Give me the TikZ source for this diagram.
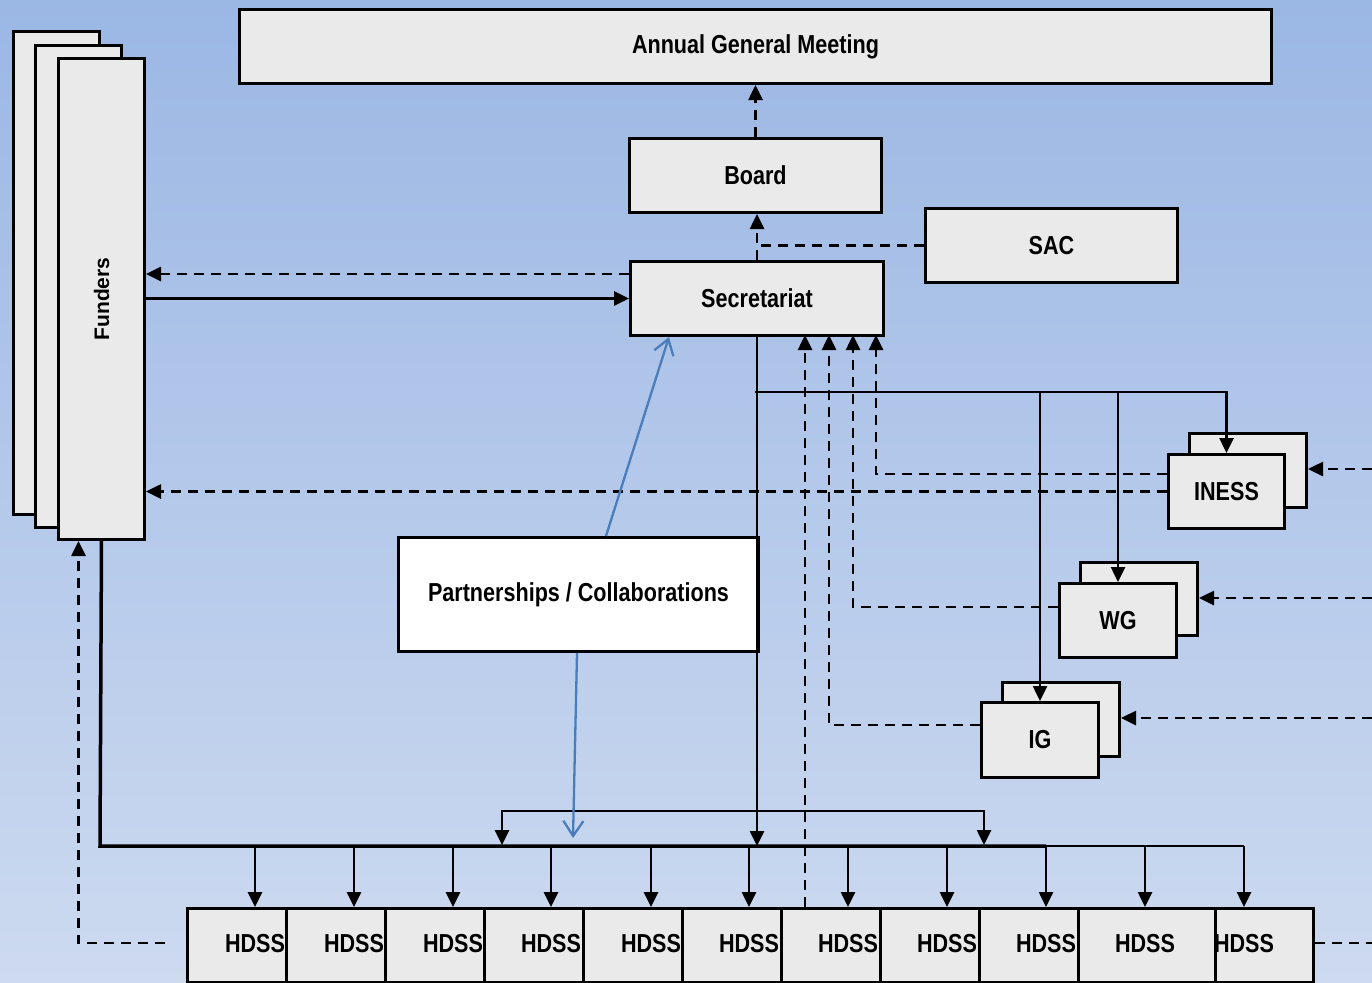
\documentclass[tikz,border=0pt]{standalone}
\usepackage{fontspec}
\setmainfont{Liberation Sans}
\newfontfamily\condfont{Liberation Sans}[FakeStretch=0.83]
\usetikzlibrary{arrows.meta}
\definecolor{bgtop}{RGB}{155,183,228}
\definecolor{bgbot}{RGB}{205,218,240}
\definecolor{boxgray}{RGB}{234,234,234}
\definecolor{linkblue}{RGB}{74,126,187}
\begin{document}
\begin{tikzpicture}[x=1pt,y=-1pt,
  box/.style={draw=black, fill=boxgray, line width=3pt, inner sep=0pt, anchor=north west,
    font=\condfont\bfseries\fontsize{26}{30}\selectfont},
  hbox/.style={box, line width=2.5pt},
  lbl/.style={inner sep=0pt, font=\condfont\bfseries\fontsize{26}{30}\selectfont},
  conn/.style={line width=2.6pt},
  arr/.style={conn, -{Triangle[length=15pt,width=14pt]}},
  dsh/.style={conn, dash pattern=on 10pt off 7pt},
  darr/.style={dsh, -{Triangle[length=15pt,width=14pt]}},
  bluelink/.style={draw=linkblue, line width=2.3pt, -{Straight Barb[length=15pt,width=20pt]}}]
\shade[top color=bgtop, bottom color=bgbot] (0,0) rectangle (1372,982);
\useasboundingbox (0,0) rectangle (1372,982);

% top boxes
\node[box, minimum width=1032pt, minimum height=74pt] (agm) at (238,8) {Annual General Meeting};
\node[box, minimum width=252pt, minimum height=74pt] (board) at (628,137) {Board};
\node[box, minimum width=252pt, minimum height=74pt] (sac) at (924,207) {SAC};
\node[box, minimum width=253pt, minimum height=74pt] (sec) at (629,260) {Secretariat};

% funders stack
\node[box, minimum width=86pt, minimum height=483pt] (fund3) at (12,30) {};
\node[box, minimum width=86pt, minimum height=482pt] (fund2) at (34,44) {};
\node[box, minimum width=86pt, minimum height=481pt] (funders) at (57,57) {};
\node[rotate=90, inner sep=0pt, font=\bfseries\fontsize{21}{24}\selectfont] (fundtext) at (funders.center) {Funders};

% partnerships
\node[box, fill=white, minimum width=360pt, minimum height=114pt] (part) at (397,536) {Partnerships / Collaborations};

% INESS, WG, IG stacks
\node[box, minimum width=117pt, minimum height=74pt] (inessb) at (1188,432) {};
\node[box, minimum width=116pt, minimum height=74pt] (iness) at (1167,453) {INESS};
\node[box, minimum width=117pt, minimum height=73pt] (wgb) at (1079,561) {};
\node[box, minimum width=117pt, minimum height=74pt] (wg) at (1058,582) {WG};
\node[box, minimum width=117pt, minimum height=74pt] (igb) at (1001,681) {};
\node[box, minimum width=117pt, minimum height=75pt] (ig) at (980,701) {IG};

% bus
\coordinate (busL) at (100,846);
\coordinate (busM) at (1046,846);
\coordinate (busR) at (1244,846);
\draw[line width=3.5pt] (funders.south) -- (busL) -- (busM);
\draw[line width=2.5pt] (busM) -- (busR);

% HDSS row
\foreach \xa/\xb/\xt [count=\i] in {186/285/255, 285/384/354, 384/483/453, 483/582/551,
   582/681/651, 681/780/749, 780/879/848, 879/978/947, 978/1077/1046, 1077/1214/1145, 1214/1312/1244} {
  \node[hbox, minimum width=\xb pt-\xa pt, minimum height=74pt] (h\i) at (\xa,907) {};
  \node[lbl] (ht\i) at (\xt,944) {HDSS};
  \draw[arr] (\xt,846) -- (ht\i |- h\i.north);
}

% Secretariat down to bus and sub-bus
\coordinate (b2L) at (502,811);
\coordinate (b2R) at (984,811);
\draw[arr] (sec.south) -- (sec.south |- busL);
\draw[arr] (sec.south |- b2L) -- (b2L) -- ([yshift=1pt]b2L |- busL);
\draw[arr] (sec.south |- b2R) -- (b2R) -- ([yshift=1pt]b2R |- busL);

% Secretariat to INESS, WG, IG
\coordinate (rb) at (755,392);
\draw[arr] (rb) -| (iness.north);
\draw[arr] (wg.north |- rb) -- (wg.north);
\draw[arr] (ig.north |- rb) -- (ig.north);

% dashed reports to Secretariat
\draw[darr] (iness.west |- 0,474) -| (876,335);
\draw[darr] (wg.west |- 0,607) -| (853,335);
\draw[darr] (ig.west |- 0,725) -| (829,335);
\draw[darr] (h7.north -| 805,0) -- (805,335);

% INESS to funders
\draw[darr] (iness.west) -- (funders.east |- iness.west);

% Secretariat <-> Funders
\draw[darr] (sec.west |- 0,274) -- (funders.east |- 0,274);
\draw[arr] (funders.east |- sec.west) -- (sec.west);

% governance
\draw[darr] (board.north) -- (agm.south -| board.north);
\draw[darr] (sec.north) -- (board.south -| sec.north);
\draw[dsh] (sac.west) -- (sec.north |- sac.west);

% external dashed inputs on the right
\coordinate (eI) at (1372,469);
\coordinate (eW) at (1372,598);
\coordinate (eG) at (1372,718);
\draw[darr] (eI) -- (inessb.east |- eI);
\draw[darr] (eW) -- (wgb.east |- eW);
\draw[darr] (eG) -- (igb.east |- eG);

% HDSS dashed ends
\coordinate (hR) at (1372,943);
\draw[dsh] (h11.east |- hR) -- (hR);
\coordinate (hL) at (165,943);
\draw[darr] (hL) -| ([xshift=-23pt]funders.south);

% partnerships links
\draw[bluelink] (part.north -| 606,0) -- (sec.south -| 669,0);
\draw[bluelink] (part.south -| 577,0) -- (573,838);
\end{tikzpicture}
\end{document}
